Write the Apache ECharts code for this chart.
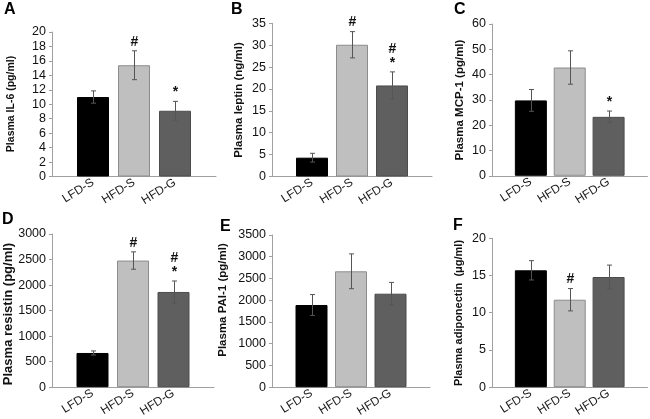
<!DOCTYPE html>
<html><head><meta charset="utf-8">
<script src="https://cdn.jsdelivr.net/npm/echarts@6/dist/echarts.min.js"></script>
<style>html,body{margin:0;padding:0;background:#fff}#c{width:650px;height:419px}</style>
</head><body><div id="c"></div>
<script>
// ---- data ----
const categories = ['LFD-S', 'HFD-S', 'HFD-G'];

const il6Mean = [11.0, 15.4, 9.1];
const il6Err = [0.85, 2.0, 1.3];
const il6Marks = ['', '#', '*'];

const leptinMean = [4.3, 30.1, 20.8];
const leptinErr = [1.0, 3.0, 3.1];
const leptinMarks = ['', '#', '#\n*'];

const mcp1Mean = [29.8, 42.8, 23.3];
const mcp1Err = [4.3, 6.6, 2.3];
const mcp1Marks = ['', '', '*'];

const resistinMean = [670, 2480, 1865];
const resistinErr = [40, 170, 215];
const resistinMarks = ['', '#', '#\n*'];

const pai1Mean = [1890, 2665, 2150];
const pai1Err = [240, 400, 260];
const pai1Marks = ['', '', ''];

const adipoMean = [15.7, 11.75, 14.8];
const adipoErr = [1.3, 1.5, 1.6];
const adipoMarks = ['', '#', ''];

const panelLetters = ['A', 'B', 'C', 'D', 'E', 'F'];
const yTitles = ['Plasma IL-6 (pg/ml)', 'Plasma leptin (ng/ml)', 'Plasma MCP-1 (pg/ml)',
                 'Plasma resistin (pg/ml)', 'Plasma PAI-1 (pg/ml)', 'Plasma adiponectin  (\u03bcg/ml)'];
const yMax = [20, 35, 60, 3000, 3500, 20];
const yStep = [2, 5, 10, 500, 500, 5];

const means = [il6Mean, leptinMean, mcp1Mean, resistinMean, pai1Mean, adipoMean];
const errs = [il6Err, leptinErr, mcp1Err, resistinErr, pai1Err, adipoErr];
const marks = [il6Marks, leptinMarks, mcp1Marks, resistinMarks, pai1Marks, adipoMarks];

// ---- layout / style ----
const barFill = ['#000000', '#bfbfbf', '#5f5f5f'];
const barEdge = ['#000000', '#8c8c8c', '#4c4c4c'];
const axisColor = '#a0a0a0';
const layout = [
  {left: 52, top: 32, width: 164, height: 144.5, letter: [10, 10], title: [11, 104], tfs: 10.5},
  {left: 272, top: 23.3, width: 160, height: 153.2, letter: [237, 10], title: [239, 100], tfs: 11.5},
  {left: 492, top: 24, width: 156, height: 151.8, letter: [460, 10], title: [460, 100], tfs: 11.5},
  {left: 52, top: 234, width: 162, height: 154.3, letter: [8, 220], title: [8, 314], tfs: 13},
  {left: 272, top: 235, width: 158, height: 153.3, letter: [226, 227], title: [223, 300], tfs: 11.5},
  {left: 492, top: 238.3, width: 156, height: 150, letter: [459, 226], title: [459, 313], tfs: 11}
];

const grid = [], xAxis = [], yAxis = [], series = [], graphic = [];
layout.forEach((L, i) => {
  grid.push({left: L.left, top: L.top, width: L.width, height: L.height});
  xAxis.push({
    type: 'value', gridIndex: i, min: 0, max: 4, interval: 1,
    axisLine: {show: true, lineStyle: {color: axisColor, width: 1}},
    axisTick: {show: false}, splitLine: {show: false},
    axisLabel: {
      rotate: 32, margin: 5, fontSize: 12, color: '#1a1a1a', fontFamily: 'Liberation Sans, Arial',
      formatter: v => categories[v - 1] || ''
    }
  });
  yAxis.push({
    type: 'value', gridIndex: i, min: 0, max: yMax[i], interval: yStep[i],
    axisLine: {show: true, lineStyle: {color: axisColor, width: 1}},
    axisTick: {show: true, length: 3, lineStyle: {color: axisColor}},
    splitLine: {show: false},
    axisLabel: {margin: 6, fontSize: 12.5, color: '#111', fontFamily: 'Liberation Sans, Arial',
                formatter: v => String(v)}
  });
  series.push({
    type: 'bar', xAxisIndex: i, yAxisIndex: i, barWidth: 32, silent: true,
    data: means[i].map((v, j) => ({
      value: [j + 1, v],
      itemStyle: {color: barFill[j], borderColor: barEdge[j], borderWidth: 1}
    }))
  });
  const mk = marks[i];
  series.push({
    type: 'custom', xAxisIndex: i, yAxisIndex: i, z: 5, silent: true, clip: false,
    data: means[i].map((v, j) => [j + 1, v, errs[i][j]]),
    renderItem: (params, api) => {
      const x = api.value(0), y = api.value(1), e = api.value(2);
      const t = api.coord([x, y + e]);
      const b = api.coord([x, y - e]);
      const cx = Math.round(t[0]) + 0.5;
      const st = {stroke: '#555', lineWidth: 1};
      const ch = [
        {type: 'line', shape: {x1: cx, y1: t[1], x2: cx, y2: b[1]}, style: st},
        {type: 'line', shape: {x1: cx - 2.5, y1: t[1], x2: cx + 2.5, y2: t[1]}, style: st},
        {type: 'line', shape: {x1: cx - 2.5, y1: b[1], x2: cx + 2.5, y2: b[1]}, style: st}
      ];
      const m = mk[params.dataIndex];
      if (m) {
        ch.push({type: 'text', style: {
          x: cx, y: t[1] - 2, text: m, align: 'center', verticalAlign: 'bottom',
          font: 'bold 14px Liberation Sans, Arial', lineHeight: 14, fill: '#111'
        }});
      }
      return {type: 'group', children: ch};
    }
  });
  graphic.push({
    type: 'text', left: L.letter[0] - 6, top: L.letter[1] - 8,
    style: {text: panelLetters[i], font: 'bold 16px Liberation Sans, Arial', fill: '#000'}
  });
  graphic.push({
    type: 'text', x: L.title[0], y: L.title[1], rotation: Math.PI / 2,
    style: {text: yTitles[i], font: 'bold ' + L.tfs + 'px Liberation Sans, Arial', fill: '#111',
            align: 'center', verticalAlign: 'middle'}
  });
});

const chart = echarts.init(document.getElementById('c'), null, {renderer: 'canvas'});
chart.setOption({animation: false, backgroundColor: '#fff', grid, xAxis, yAxis, series, graphic});
</script>
</body></html>
